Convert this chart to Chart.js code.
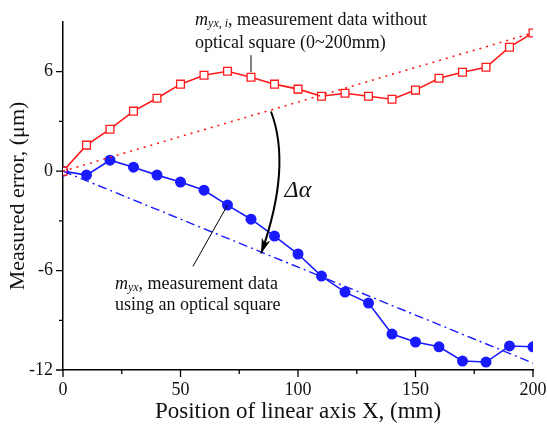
<!DOCTYPE html>
<html>
<head>
<meta charset="utf-8">
<script src="https://cdn.jsdelivr.net/npm/chart.js@4"></script>
<style>
  html, body { margin: 0; padding: 0; background: #fff; }
  #wrap { width: 547px; height: 429px; }
</style>
</head>
<body>
<div id="wrap"><canvas id="errChart"></canvas></div>
<script>
// positions along the axis (mm)
const positions = [0, 10, 20, 30, 40, 50, 60, 70, 80, 90, 100, 110, 120, 130, 140, 150, 160, 170, 180, 190, 200]
// m_yx,i : without optical square
const withoutSquare = [0, 1.57, 2.53, 3.62, 4.40, 5.25, 5.79, 6.03, 5.67, 5.25, 4.95, 4.52, 4.70, 4.52, 4.34, 4.89, 5.61, 5.97, 6.27, 7.48, 8.34]
// m_yx : using an optical square
const withSquare = [0, -0.24, 0.66, 0.24, -0.24, -0.66, -1.15, -2.05, -2.90, -3.92, -5.00, -6.33, -7.30, -7.96, -9.83, -10.31, -10.60, -11.46, -11.52, -10.55, -10.60]
// fitted reference lines (start, end)
const trendRedEnds = [0, 8.34]
const trendBlueEnds = [0, -11.58]

const xTicks = [0, 50, 100, 150, 200]
const yTicks = [-12, -6, 0, 6]
const xMinor = [25, 75, 125, 175]
const yMinor = [-9, -3, 3]

const serif = "'Liberation Serif', 'Times New Roman', serif"
const RED = '#ff1a1a'
const BLUE = '#1a1aff'

const pts = (xs, ys) => xs.map((x, i) => ({ x: x, y: ys[i] }))

// minor/major tick marks and the annotations
const extras = {
    id: 'extras',
    afterDraw(chart) {
        const ctx = chart.ctx
        const xs = chart.scales.x, ys = chart.scales.y
        const area = chart.chartArea
        const px = v => xs.getPixelForValue(v)
        const py = v => ys.getPixelForValue(v)
        ctx.save()
        ctx.strokeStyle = '#000'
        ctx.lineWidth = 1.3
        ctx.beginPath()
        xTicks.forEach(v => { ctx.moveTo(px(v), area.bottom); ctx.lineTo(px(v), area.bottom + 7) })
        xMinor.forEach(v => { ctx.moveTo(px(v), area.bottom); ctx.lineTo(px(v), area.bottom + 4) })
        yTicks.forEach(v => { ctx.moveTo(area.left, py(v)); ctx.lineTo(area.left - 7, py(v)) })
        yMinor.forEach(v => { ctx.moveTo(area.left, py(v)); ctx.lineTo(area.left - 4, py(v)) })
        ctx.stroke()

        // leader lines
        ctx.lineWidth = 1
        ctx.beginPath()
        ctx.moveTo(px(80), py(7.0))
        ctx.lineTo(px(80), py(withoutSquare[8]) - 5)
        ctx.moveTo(px(55.3), py(-5.75))
        ctx.lineTo(px(70), py(withSquare[7]))
        ctx.stroke()

        // curved arrow for the angle
        const sx = px(88.5), sy = py(3.6)
        const ex = px(84.3), ey = py(-4.97)
        const cx = 2 * px(91.9) - (sx + ex) / 2
        const cy = 2 * py(-0.2) - (sy + ey) / 2
        ctx.lineWidth = 2
        ctx.beginPath()
        ctx.moveTo(sx, sy)
        ctx.quadraticCurveTo(cx, cy, ex, ey)
        ctx.stroke()
        const ang = Math.atan2(ey - cy, ex - cx)
        ctx.fillStyle = '#000'
        ctx.beginPath()
        ctx.moveTo(ex, ey)
        ctx.lineTo(ex - 15 * Math.cos(ang) + 4.5 * Math.sin(ang), ey - 15 * Math.sin(ang) - 4.5 * Math.cos(ang))
        ctx.lineTo(ex - 11 * Math.cos(ang), ey - 11 * Math.sin(ang))
        ctx.lineTo(ex - 15 * Math.cos(ang) - 4.5 * Math.sin(ang), ey - 15 * Math.sin(ang) + 4.5 * Math.cos(ang))
        ctx.closePath()
        ctx.fill()

        ctx.fillStyle = '#111'
        ctx.textBaseline = 'middle'
        ctx.textAlign = 'left'
        ctx.font = 'italic 24px ' + serif
        ctx.fillText('Δα', px(94.3), py(-1.15))

        // label with subscript
        const label = (x, y, sub, rest) => {
            ctx.font = 'italic 18px ' + serif
            ctx.fillText('m', x, y)
            let w = ctx.measureText('m').width
            ctx.font = 'italic 12px ' + serif
            ctx.fillText(sub, x + w, y + 4)
            w += ctx.measureText(sub).width
            ctx.font = '18px ' + serif
            ctx.fillText(rest, x + w, y)
        }
        label(px(56.2), py(9.1), 'yx, i', ', measurement data without')
        ctx.font = '18px ' + serif
        ctx.fillText('optical square (0~200mm)', px(56.2), py(7.7))
        label(px(22.1), py(-6.8), 'yx', ', measurement data')
        ctx.font = '18px ' + serif
        ctx.fillText('using an optical square', px(22.1), py(-8.1))
        ctx.restore()
    }
}

new Chart(document.getElementById('errChart').getContext('2d'), {
    type: 'scatter',
    data: {
        datasets: [
            {
                data: pts([positions[0], positions[positions.length - 1]], trendRedEnds),
                showLine: true, borderColor: RED, borderWidth: 1.6,
                borderDash: [2, 5], pointRadius: 0
            },
            {
                data: pts([positions[0], positions[positions.length - 1]], trendBlueEnds),
                showLine: true, borderColor: BLUE, borderWidth: 1.4,
                borderDash: [9, 4, 2, 4], pointRadius: 0
            },
            {
                data: pts(positions, withoutSquare),
                showLine: true, borderColor: RED, borderWidth: 1.6,
                pointStyle: 'rect', pointRadius: 5.5, pointBorderWidth: 1.3,
                pointBackgroundColor: '#fff', pointBorderColor: RED
            },
            {
                data: pts(positions, withSquare),
                showLine: true, borderColor: BLUE, borderWidth: 1.6,
                pointStyle: 'circle', pointRadius: 5.5, pointBorderWidth: 0,
                pointBackgroundColor: BLUE
            }
        ]
    },
    options: {
        responsive: true,
        maintainAspectRatio: false,
        animation: false,
        layout: { padding: { top: 22, right: 0, left: 0, bottom: 0 } },
        plugins: { legend: { display: false }, tooltip: { enabled: false } },
        scales: {
            x: {
                type: 'linear', min: 0, max: 200,
                afterFit: s => { s.height = 59; s.paddingRight = 14; s.paddingLeft = 0 },
                afterBuildTicks: s => { s.ticks = xTicks.map(v => ({ value: v })) },
                grid: { display: true, drawOnChartArea: false, drawTicks: false },
                border: { display: true, color: '#000', width: 1.5 },
                ticks: { color: '#111', padding: 9, maxRotation: 0, font: { family: serif, size: 18 } },
                title: { display: true, text: 'Position of linear axis X, (mm)', color: '#111',
                    padding: { top: 0, bottom: 3 }, font: { family: serif, size: 23 } }
            },
            y: {
                type: 'linear', min: -12, max: 9,
                afterFit: s => { s.width = 63 },
                afterBuildTicks: s => { s.ticks = yTicks.map(v => ({ value: v })) },
                grid: { display: true, drawOnChartArea: false, drawTicks: false },
                border: { display: true, color: '#000', width: 1.5 },
                ticks: { color: '#111', padding: 10, font: { family: serif, size: 18 } },
                title: { display: true, text: 'Measured error, (μm)', color: '#111',
                    padding: { top: 5, bottom: 0 }, font: { family: serif, size: 22 } }
            }
        }
    },
    plugins: [extras]
});
</script>
</body>
</html>
